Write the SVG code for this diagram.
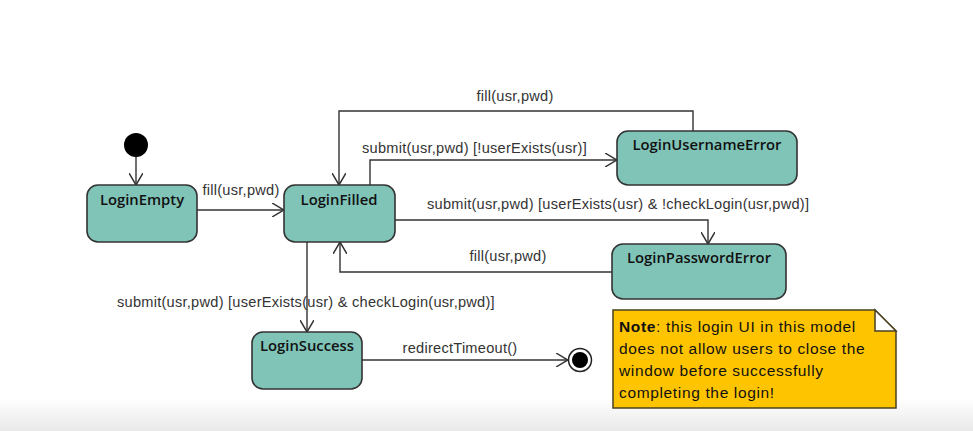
<svg xmlns="http://www.w3.org/2000/svg" width="973" height="431" viewBox="0 0 973 431">
<defs>
<linearGradient id="bg" x1="0" y1="0" x2="0" y2="1">
<stop offset="0" stop-color="#ffffff"/>
<stop offset="1" stop-color="#e9e9e9"/>
</linearGradient>
<marker id="open" viewBox="0 0 12 14" refX="12" refY="7" markerWidth="12" markerHeight="14" markerUnits="userSpaceOnUse" orient="auto">
<path d="M0,0 L12,7 L0,14" fill="none" stroke="#333" stroke-width="1.5"/>
</marker>
</defs>
<style>
.state{fill:#80c4b8;stroke:#333;stroke-width:1.6}
.sl{font-family:"Open Sans","Noto Sans",sans-serif;font-weight:600;font-size:14.8px;fill:#111;text-anchor:middle}
.edge{fill:none;stroke:#333;stroke-width:1.4;marker-end:url(#open)}
.lbl{font-family:"Liberation Sans",Arial,sans-serif;font-size:14.6px;letter-spacing:0.25px;fill:#333}
.note{font-family:"Liberation Sans",Arial,sans-serif;font-size:15.5px;letter-spacing:0.65px;fill:#111}
</style>
<rect x="0" y="0" width="973" height="431" fill="#fff"/>
<rect x="0" y="398" width="973" height="33" fill="url(#bg)"/>

<g id="connectors">
<path class="edge" d="M136,157 L136,185"/>
<path class="edge" d="M197,210 L284,210"/>
<path class="edge" d="M693,131 L693,111 L339,111 L339,185"/>
<path class="edge" d="M370,185 L370,160 L617,160"/>
<path class="edge" d="M395,220 L708,220 L708,244"/>
<path class="edge" d="M612,272 L340,272 L340,242"/>
<path class="edge" d="M307,242 L307,332"/>
<path class="edge" d="M362,360 L568,360"/>
<text class="lbl" x="241" y="195" text-anchor="middle">fill(usr,pwd)</text>
<text class="lbl" x="515" y="101" text-anchor="middle">fill(usr,pwd)</text>
<text class="lbl" x="362" y="153">submit(usr,pwd) [!userExists(usr)]</text>
<text class="lbl" x="427" y="209">submit(usr,pwd) [userExists(usr) &amp; !checkLogin(usr,pwd)]</text>
<text class="lbl" x="508" y="261" text-anchor="middle">fill(usr,pwd)</text>
<text class="lbl" x="117" y="307">submit(usr,pwd) [userExists(usr) &amp; checkLogin(usr,pwd)]</text>
<text class="lbl" x="460" y="353" text-anchor="middle">redirectTimeout()</text>
</g>

<g id="initial"><circle cx="136" cy="145" r="12" fill="#000"/></g>

<g id="LoginEmpty">
<rect class="state" x="87" y="185" width="110" height="57" rx="11"/>
<text class="sl" x="142" y="205">LoginEmpty</text>
</g>
<g id="LoginFilled">
<rect class="state" x="284" y="185" width="111" height="57" rx="11"/>
<text class="sl" x="339" y="205">LoginFilled</text>
</g>
<g id="LoginUsernameError">
<rect class="state" x="617" y="131" width="180" height="54" rx="11"/>
<text class="sl" x="707" y="150">LoginUsernameError</text>
</g>
<g id="LoginPasswordError">
<rect class="state" x="612" y="244" width="174" height="55" rx="11"/>
<text class="sl" x="699" y="263">LoginPasswordError</text>
</g>
<g id="LoginSuccess">
<rect class="state" x="252" y="332" width="110" height="57" rx="11"/>
<text class="sl" x="307" y="351">LoginSuccess</text>
</g>
<g id="final">
<circle cx="580" cy="360" r="11.5" fill="#fff" stroke="#222" stroke-width="1.5"/>
<circle cx="580" cy="360" r="8" fill="#000"/>
</g>

<g id="note">
<path d="M613,310 L875,310 L896,331 L896,408 L613,408 Z" fill="#ffc400" stroke="#4a4020" stroke-width="1.5"/>
<path d="M875,310 L875,331 L896,331 Z" fill="#fff" stroke="#4a4020" stroke-width="1.5"/>
<text class="note" x="619" y="332"><tspan font-weight="bold">Note</tspan>: this login UI in this model</text>
<text class="note" x="619" y="354">does not allow users to close the</text>
<text class="note" x="619" y="376">window before successfully</text>
<text class="note" x="619" y="398">completing the login!</text>
</g>
</svg>
